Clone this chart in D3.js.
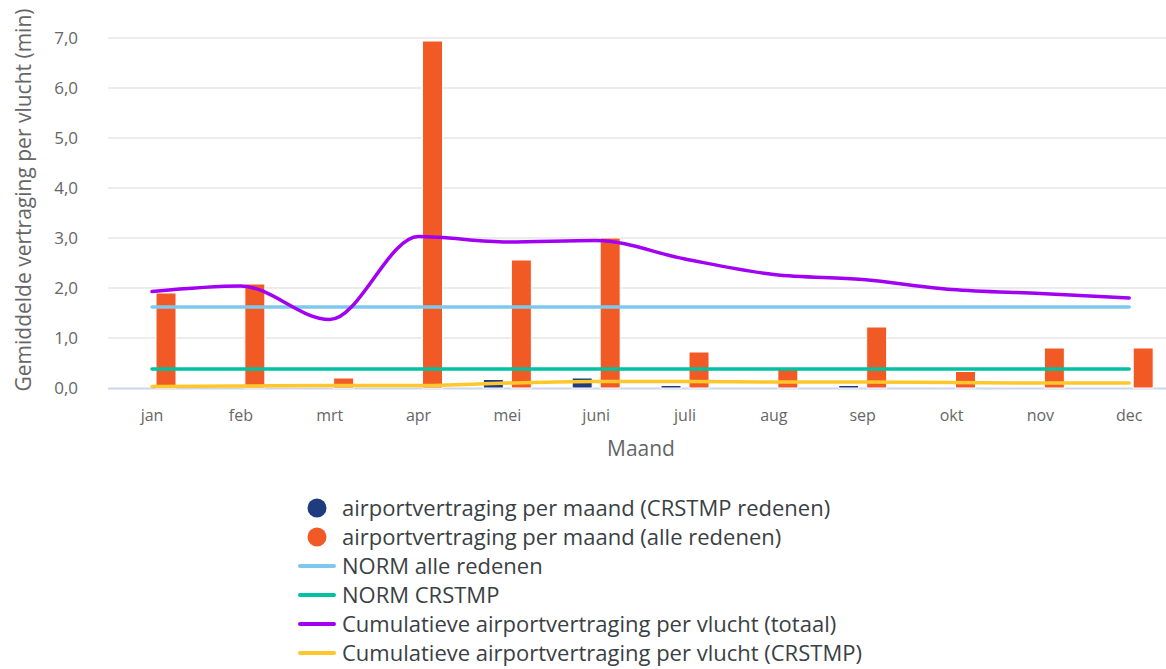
<!DOCTYPE html>
<html lang="nl">
  <head>
    <meta charset="UTF-8" />
    <title>Airportvertraging</title>
    <script src="https://cdn.jsdelivr.net/npm/d3@7"></script>
    <style>
      body {
        margin: 0;
        overflow: hidden;
        background: #fff;
      }
      text {
        font-family: "Open Sans", "DejaVu Sans", sans-serif;
      }
    </style>
  </head>
  <body>
    <script>
      const months = ["jan", "feb", "mrt", "apr", "mei", "juni", "juli", "aug", "sep", "okt", "nov", "dec"];
      const crstmpPerMonth = [0, 0, 0, 0, 0.17, 0.2, 0.05, 0, 0.05, 0, 0, 0];
      const allPerMonth = [1.9, 2.08, 0.2, 6.94, 2.56, 3.0, 0.72, 0.4, 1.22, 0.33, 0.8, 0.8];
      const normAll = [1.62, 1.62, 1.62, 1.62, 1.62, 1.62, 1.62, 1.62, 1.62, 1.62, 1.62, 1.62];
      const normCrstmp = [0.38, 0.38, 0.38, 0.38, 0.38, 0.38, 0.38, 0.38, 0.38, 0.38, 0.38, 0.38];
      const cumTotal = [1.93, 2.04, 1.37, 3.03, 2.92, 2.95, 2.58, 2.27, 2.17, 1.97, 1.89, 1.8];
      const cumCrstmp = [0.03, 0.04, 0.05, 0.05, 0.1, 0.13, 0.13, 0.12, 0.12, 0.11, 0.1, 0.1];
      const yTicks = [0, 1, 2, 3, 4, 5, 6, 7];

      const width = 1166;
      const height = 669;
      const margin = { top: 38, left: 108, bottom: 388 };

      const svg = d3
        .select("body")
        .append("svg")
        .attr("width", width)
        .attr("height", height);

      const x = d3.scaleBand().domain(months).range([107.6, 1173.6]);
      const bw = x.bandwidth();
      const x1 = d3
        .scaleBand()
        .domain(["crstmp", "alle"])
        .range([bw / 2 - 24, bw / 2 + 24])
        .paddingInner(2 - 48 / 28);
      const y = d3.scaleLinear().domain([0, 7]).range([388, 38]);
      const cx = (m) => x(m) + bw / 2;

      // gridlines
      svg
        .append("g")
        .selectAll("line")
        .data(yTicks.filter((t) => t > 0))
        .join("line")
        .attr("x1", margin.left)
        .attr("x2", width)
        .attr("y1", (d) => y(d))
        .attr("y2", (d) => y(d))
        .attr("stroke", "#e6e6e6")
        .attr("stroke-width", 1.5);

      svg
        .append("line")
        .attr("x1", margin.left)
        .attr("x2", width)
        .attr("y1", y(0) + 0.5)
        .attr("y2", y(0) + 0.5)
        .attr("stroke", "#ccd6eb")
        .attr("stroke-width", 2);

      // y axis
      const yAxis = svg
        .append("g")
        .attr("transform", "translate(78,0)")
        .call(
          d3
            .axisLeft(y)
            .tickValues(yTicks)
            .tickSize(0)
            .tickPadding(0)
            .tickFormat((d) => d3.format(".1f")(d).replace(".", ","))
        );
      yAxis.select(".domain").remove();
      yAxis
        .selectAll("text")
        .attr("fill", "#666")
        .style("font-size", "17px");

      svg
        .append("text")
        .attr("transform", "translate(31,200) rotate(-90)")
        .attr("text-anchor", "middle")
        .attr("fill", "#666")
        .style("font-size", "21px")
        .text("Gemiddelde vertraging per vlucht (min)");

      // x axis
      const xAxis = svg
        .append("g")
        .attr("transform", "translate(0,410)")
        .call(d3.axisBottom(x).tickSize(0).tickPadding(0));
      xAxis.select(".domain").remove();
      xAxis
        .selectAll("text")
        .attr("fill", "#666")
        .style("font-size", "16px");

      svg
        .append("text")
        .attr("x", 641)
        .attr("y", 456)
        .attr("text-anchor", "middle")
        .attr("fill", "#666")
        .style("font-size", "21px")
        .text("Maand");

      // bars
      const bars = (values, key, color) =>
        svg
          .append("g")
          .selectAll("rect")
          .data(values)
          .join("rect")
          .attr("x", (d, i) => x(months[i]) + x1(key))
          .attr("width", x1.bandwidth())
          .attr("y", (d) => y(d))
          .attr("height", (d) => y(0) - y(d))
          .attr("fill", color)
          .attr("stroke", "#fff")
          .attr("stroke-width", 1);

      bars(crstmpPerMonth, "crstmp", "#1f3c7e");
      bars(allPerMonth, "alle", "#f15a24");

      // lines
      const lineSeries = (values, color, curve) =>
        svg
          .append("path")
          .datum(values)
          .attr("fill", "none")
          .attr("stroke", color)
          .attr("stroke-width", 3.5)
          .attr("stroke-linecap", "round")
          .attr(
            "d",
            d3
              .line()
              .x((d, i) => cx(months[i]))
              .y((d) => y(d))
              .curve(curve)
          );

      lineSeries(normAll, "#7ec8ee", d3.curveLinear);
      lineSeries(normCrstmp, "#00c1a2", d3.curveLinear);
      lineSeries(cumTotal, "#a100f2", d3.curveMonotoneX);
      lineSeries(cumCrstmp, "#ffc72c", d3.curveMonotoneX);

      // legend
      const legendItems = [
        { name: "airportvertraging per maand (CRSTMP redenen)", color: "#1f3c7e", type: "bar" },
        { name: "airportvertraging per maand (alle redenen)", color: "#f15a24", type: "bar" },
        { name: "NORM alle redenen", color: "#7ec8ee", type: "line" },
        { name: "NORM CRSTMP", color: "#00c1a2", type: "line" },
        { name: "Cumulatieve airportvertraging per vlucht (totaal)", color: "#a100f2", type: "line" },
        { name: "Cumulatieve airportvertraging per vlucht (CRSTMP)", color: "#ffc72c", type: "line" },
      ];

      const legend = svg
        .append("g")
        .selectAll("g")
        .data(legendItems)
        .join("g")
        .attr("transform", (d, i) => `translate(0,${508 + i * 29})`);

      legend
        .filter((d) => d.type === "bar")
        .append("circle")
        .attr("cx", 317)
        .attr("cy", 0)
        .attr("r", 9.5)
        .attr("fill", (d) => d.color);

      legend
        .filter((d) => d.type === "line")
        .append("line")
        .attr("x1", 300)
        .attr("x2", 334)
        .attr("stroke", (d) => d.color)
        .attr("stroke-width", 4)
        .attr("stroke-linecap", "round");

      legend
        .append("text")
        .attr("x", 342)
        .attr("dy", "0.35em")
        .attr("fill", "#3a3f44")
        .style("font-size", "22px")
        .text((d) => d.name);
    </script>
  </body>
</html>
